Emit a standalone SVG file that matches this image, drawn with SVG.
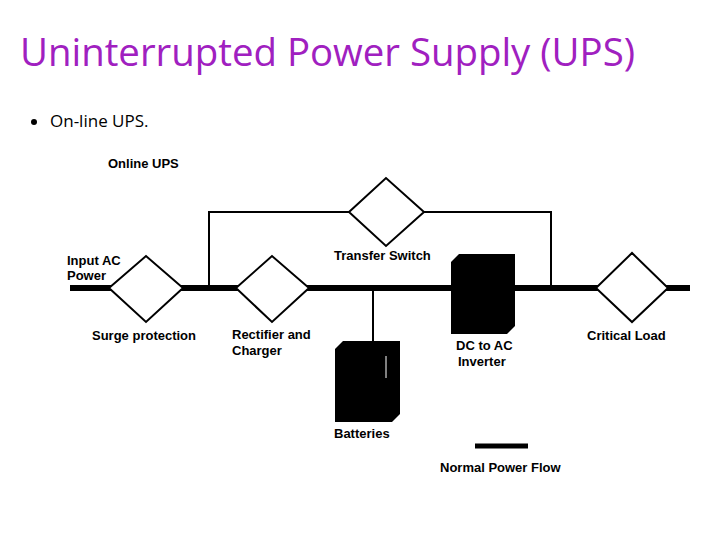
<svg xmlns="http://www.w3.org/2000/svg" width="720" height="540" viewBox="0 0 720 540">
<style>
.t{font-family:"Liberation Sans",Arial,sans-serif;font-size:13px;fill:#000;font-weight:bold}
.d{fill:#fff;stroke:#000;stroke-width:2}
.b{fill:#000}
</style>
<rect width="720" height="540" fill="#fff"/>
<text x="20" y="66" font-family="Open Sans,sans-serif" font-size="38" fill="#a020c0" textLength="615" lengthAdjust="spacingAndGlyphs">Uninterrupted Power Supply (UPS)</text>
<circle cx="34" cy="122" r="3" fill="#000"/>
<text x="50" y="127" font-family="Open Sans,sans-serif" font-size="17" fill="#000">On-line UPS.</text>
<text class="t" x="108" y="168">Online UPS</text>
<g id="connectors" stroke="#000" fill="none">
<path d="M70 288H690" stroke-width="6"/>
<path d="M209 288V212H551V288" stroke-width="2"/>
<path d="M373 288V341" stroke-width="2"/>
<path d="M475 446H528" stroke-width="5"/>
</g>
<g id="surge"><path class="d" d="M109 288L146 256L183 288L146 322Z"/><text class="t" x="92" y="340" font-weight="normal">Surge protection</text></g>
<g id="input"><text class="t" x="67" y="265" font-weight="normal">Input AC</text><text class="t" x="67" y="280" font-weight="normal">Power</text></g>
<g id="rectifier"><path class="d" d="M236 288L272 256L309 288L272 322Z"/><text class="t" x="232" y="339" font-weight="normal">Rectifier and</text><text class="t" x="232" y="355" font-weight="normal">Charger</text></g>
<g id="transfer"><path class="d" d="M349 212L386 178L424 212L386 246Z"/><text class="t" x="334" y="260" font-weight="normal">Transfer Switch</text></g>
<g id="inverter"><path class="b" d="M451 262L459 254H515V326L507 334H451Z"/><text class="t" x="456" y="350" font-weight="normal">DC to AC</text><text class="t" x="458" y="366" font-weight="normal">Inverter</text></g>
<g id="batteries"><path class="b" d="M335 349L343 341H400V414L392 422H335Z"/><path d="M386 356V378" stroke="#fff" stroke-width="1"/><text class="t" x="334" y="438" font-weight="normal">Batteries</text></g>
<g id="load"><path class="d" d="M596 288L632 253L668 288L632 322Z"/><text class="t" x="587" y="340" font-weight="normal">Critical Load</text></g>
<g id="legend"><text class="t" x="440" y="472" font-weight="normal">Normal Power Flow</text></g>
</svg>
